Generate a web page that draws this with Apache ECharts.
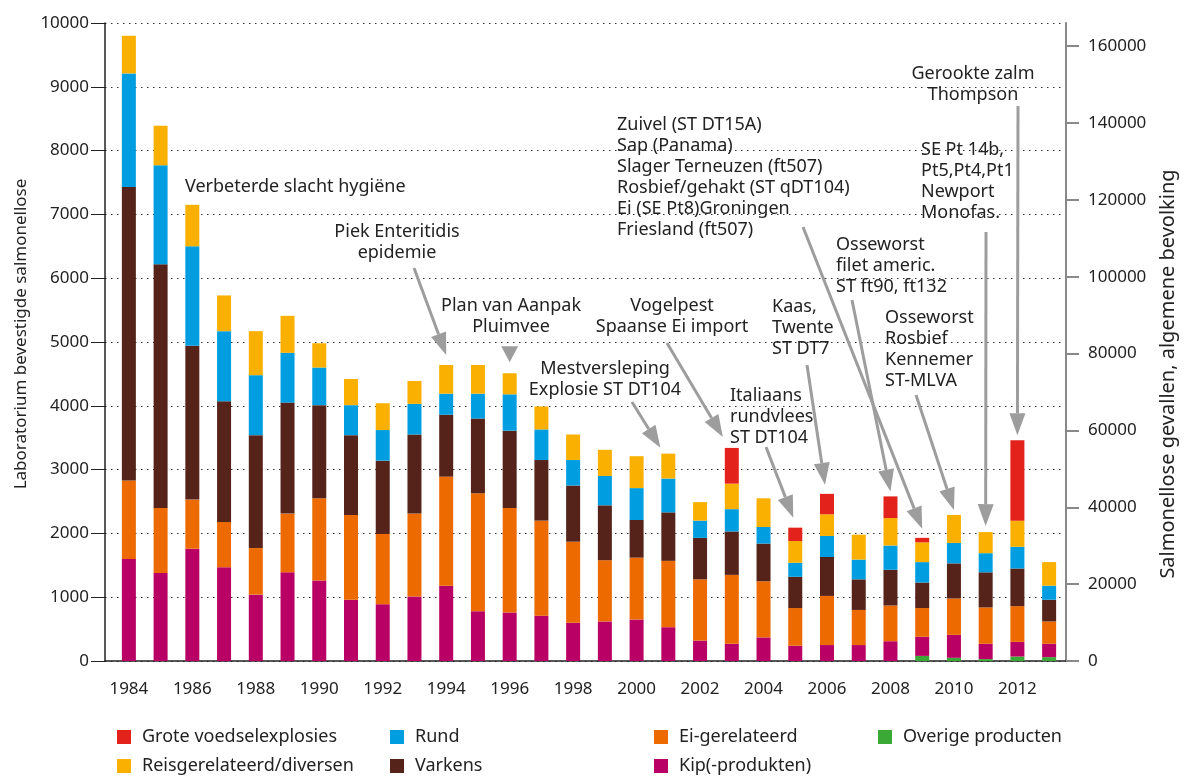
<!DOCTYPE html>
<html lang="nl">

<head>
    <meta charset="UTF-8">
    <title>Salmonellose bronnen 1984-2013</title>
    <script src="https://cdn.jsdelivr.net/npm/echarts@6/dist/echarts.min.js"></script>
    <style type="text/css">
        html, body { margin: 0; padding: 0; background: #fff; }
        #main { width: 1186px; height: 776px; }
    </style>
</head>

<body>
    <div id="main"></div>
    <script type="text/javascript">
    // jaren en waarden per bron (aantallen, gestapeld van onder naar boven)
    var years = ['1984', '1985', '1986', '1987', '1988', '1989', '1990', '1991', '1992', '1993', '1994', '1995', '1996', '1997', '1998',
        '1999', '2000', '2001', '2002', '2003', '2004', '2005', '2006', '2007', '2008', '2009', '2010', '2011', '2012', '2013'];

    var overige = [0, 0, 0, 0, 0, 0, 0, 0, 0, 0, 0, 0, 0, 0, 0, 0, 0, 0, 0, 0, 0, 0, 0, 0, 0, 80, 50, 30, 70, 60];
    var kip = [1600, 1380, 1760, 1470, 1040, 1390, 1260, 960, 890, 1010, 1180, 780, 760, 710, 600,
        620, 650, 530, 320, 270, 370, 240, 250, 250, 310, 300, 360, 240, 230, 210];
    var ei = [1230, 1020, 770, 710, 730, 920, 1290, 1330, 1100, 1300, 1710, 1850, 1640, 1490, 1270,
        960, 970, 1040, 960, 1080, 880, 590, 770, 550, 560, 450, 570, 570, 560, 350];
    var varkens = [4600, 3820, 2410, 1890, 1770, 1740, 1460, 1250, 1150, 1240, 970, 1170, 1210, 950, 880,
        860, 590, 760, 650, 680, 590, 490, 610, 480, 560, 400, 550, 550, 590, 340];
    var rund = [1780, 1550, 1560, 1100, 940, 780, 590, 470, 480, 480, 330, 390, 570, 480, 400,
        460, 500, 530, 270, 350, 260, 220, 330, 310, 380, 320, 320, 300, 340, 220];
    var reis = [590, 620, 650, 560, 690, 580, 380, 410, 420, 360, 450, 450, 330, 360, 400,
        410, 500, 390, 290, 400, 450, 340, 340, 390, 430, 310, 440, 330, 410, 370];
    var grote = [0, 0, 0, 0, 0, 0, 0, 0, 0, 0, 0, 0, 0, 0, 0,
        0, 0, 0, 0, 560, 0, 210, 320, 0, 340, 70, 0, 0, 1260, 0];

    var rightTicks = [0, 20000, 40000, 60000, 80000, 100000, 120000, 140000, 160000];

    // annotaties: tekst, positie en het jaar waar de pijl naar wijst
    var notes = [
        { lines: ['Verbeterde slacht hygiëne'], x: 185, y: 187, align: 'left' },
        { lines: ['Piek Enteritidis', 'epidemie'], x: 397, y: 232, align: 'center', from: [414, 268], year: '1994', gap: 10 },
        { lines: ['Plan van Aanpak', 'Pluimvee'], x: 511, y: 306, align: 'center', year: '1996', gap: 11, headOnly: true },
        { lines: ['Mestversleping', 'Explosie ST DT104'], x: 605, y: 369, align: 'center', from: [632, 402], year: '2001', gap: 6, dx: -8 },
        { lines: ['Vogelpest', 'Spaanse Ei import'], x: 672, y: 306, align: 'center', from: [667, 343], year: '2003', gap: 11, dx: -9 },
        { lines: ['Italiaans', 'rundvlees', 'ST DT104'], x: 730, y: 396, align: 'left', from: [766, 447], year: '2005', gap: 10, dx: -2 },
        { lines: ['Kaas,', 'Twente', 'ST DT7'], x: 772, y: 307, align: 'left', from: [807, 365], year: '2006', gap: 9, dx: -2 },
        { lines: ['Zuivel (ST DT15A)', 'Sap (Panama)', 'Slager Terneuzen (ft507)', 'Rosbief/gehakt (ST qDT104)',
            'Ei (SE Pt8)Groningen', 'Friesland (ft507)'], x: 617, y: 125, align: 'left', from: [803, 227], year: '2009', gap: 9 },
        { lines: ['Osseworst', 'filet americ.', 'ST ft90, ft132'], x: 836, y: 245, align: 'left', from: [852, 300], year: '2008', gap: 5 },
        { lines: ['Osseworst', 'Rosbief', 'Kennemer', 'ST-MLVA'], x: 885, y: 318, align: 'left', from: [916, 395], year: '2010', gap: 5 },
        { lines: ['SE Pt 14b,', 'Pt5,Pt4,Pt1', 'Newport', 'Monofas.'], x: 921, y: 150, align: 'left', from: [986, 232], year: '2011', gap: 6 },
        { lines: ['Gerookte zalm', 'Thompson'], x: 973, y: 74, align: 'center', from: [1018, 106], year: '2012', gap: 5 }
    ];

    var font = '"Noto Sans", sans-serif';
    var textColor = '#222';
    var arrowColor = '#9d9d9d';

    function barSeries(name, arr, color) {
        return {
            name: name,
            type: 'bar',
            stack: 'totaal',
            barWidth: 14,
            xAxisIndex: 0,
            yAxisIndex: 0,
            itemStyle: { color: color },
            data: arr
        };
    }

    var myChart = echarts.init(document.getElementById('main'));

    var legendText = { fontFamily: font, fontSize: 18, color: textColor, lineHeight: 18, padding: [0, 0, 0, 6] };
    function legendCol(left, names) {
        return {
            orient: 'vertical', left: left, top: 723, height: 80, itemWidth: 14, itemHeight: 14, itemGap: 11,
            icon: 'rect', textStyle: legendText, data: names, selectedMode: false
        };
    }

    var option = {
        animation: false,
        textStyle: { fontFamily: font },
        grid: [
            { left: 113, right: 121, top: 23, bottom: 115 },   // staven
            { left: 105, right: 116, top: 23, bottom: 115 }    // assen en rasterlijnen
        ],
        legend: [
            legendCol(112, ['Grote voedselexplosies', 'Reisgerelateerd/diversen']),
            legendCol(385, ['Rund', 'Varkens']),
            legendCol(649, ['Ei-gerelateerd', 'Kip(-produkten)']),
            legendCol(873, ['Overige producten'])
        ],
        xAxis: [{
            gridIndex: 0,
            type: 'category',
            data: years,
            axisLine: { show: false },
            axisTick: { show: false },
            axisLabel: { interval: 1, fontSize: 17, color: textColor, margin: 20 }
        }, {
            gridIndex: 1,
            type: 'value',
            min: 0,
            max: 1,
            axisLine: { show: true, onZero: false, lineStyle: { color: '#222', width: 1.5 } },
            axisTick: { show: false },
            axisLabel: { show: false },
            splitLine: { show: false }
        }],
        yAxis: [{
            gridIndex: 0,
            type: 'value',
            min: 0,
            max: 10000,
            show: false
        }, {
            gridIndex: 1,
            type: 'value',
            min: 0,
            max: 10000,
            interval: 1000,
            name: 'Laboratorium bevestigde salmonellose',
            nameLocation: 'middle',
            nameRotate: 90,
            nameGap: 74,
            nameTextStyle: { fontSize: 17, color: textColor, padding: [0, 0, 0, 16] },
            axisLine: { show: true, lineStyle: { color: '#222', width: 1.5 } },
            axisTick: { show: true, length: 14, lineStyle: { color: '#222' } },
            axisLabel: {
                formatter: function(v) { return String(v); },
                fontSize: 17, color: textColor, margin: 16
            },
            splitLine: { show: true, lineStyle: { color: '#333', type: [1.5, 4.5], width: 1 } }
        }, {
            gridIndex: 1,
            type: 'value',
            position: 'right',
            min: 0,
            max: 166000,
            name: 'Salmonellose gevallen, algemene bevolking',
            nameLocation: 'middle',
            nameRotate: 90,
            nameGap: 92,
            nameTextStyle: { fontSize: 20, color: textColor, padding: [0, 64, 0, 0] },
            axisLine: { show: true, lineStyle: { color: '#888', width: 2 } },
            axisTick: { show: true, length: 13, customValues: rightTicks, lineStyle: { color: '#888', width: 2 } },
            axisLabel: {
                customValues: rightTicks,
                formatter: function(v) { return String(v); },
                fontSize: 17, color: textColor, margin: 22
            },
            splitLine: { show: false }
        }],
        series: [
            barSeries('Overige producten', overige, '#3aa935'),
            barSeries('Kip(-produkten)', kip, '#b90064'),
            barSeries('Ei-gerelateerd', ei, '#ec6a00'),
            barSeries('Varkens', varkens, '#55231a'),
            barSeries('Rund', rund, '#009ee0'),
            barSeries('Reisgerelateerd/diversen', reis, '#f9b000'),
            barSeries('Grote voedselexplosies', grote, '#e3231b')
        ]
    };

    myChart.setOption(option);

    // totaal per jaar voor de pijlpunten
    function totalFor(year) {
        var i = years.indexOf(year);
        return overige[i] + kip[i] + ei[i] + varkens[i] + rund[i] + reis[i] + grote[i];
    }

    // pijl van 'from' naar punt, met gevulde driehoek
    function arrow(from, tip, len, width) {
        var dx = tip[0] - from[0], dy = tip[1] - from[1];
        var d = Math.sqrt(dx * dx + dy * dy);
        var ux = dx / d, uy = dy / d;
        var bx = tip[0] - ux * len, by = tip[1] - uy * len;
        var nx = -uy * width / 2, ny = ux * width / 2;
        return [{
            type: 'line', silent: true, z: 20,
            shape: { x1: from[0], y1: from[1], x2: bx, y2: by },
            style: { stroke: arrowColor, lineWidth: 3 }
        }, {
            type: 'polygon', silent: true, z: 20,
            shape: { points: [[tip[0], tip[1]], [bx + nx, by + ny], [bx - nx, by - ny]] },
            style: { fill: arrowColor }
        }];
    }

    var graphics = [];
    notes.forEach(function(n) {
        graphics.push({
            type: 'text', silent: true, z: 20,
            x: n.x, y: n.y - 10.5,
            style: {
                text: n.lines.join('\n'), fill: textColor, fontFamily: font, fontSize: 18,
                lineHeight: 21, align: n.align, verticalAlign: 'top'
            }
        });
        if (n.year) {
            var p = myChart.convertToPixel({ xAxisIndex: 0, yAxisIndex: 0 }, [n.year, totalFor(n.year)]);
            var tip = [p[0] + (n.dx || 0), p[1] - n.gap];
            if (n.headOnly) {
                graphics = graphics.concat(arrow([tip[0], tip[1] - 40], tip, 16, 17).slice(1));
            } else {
                graphics = graphics.concat(arrow(n.from, tip, 22, 16));
            }
        }
    });

    myChart.setOption({ graphic: graphics });
    </script>
</body>

</html>
